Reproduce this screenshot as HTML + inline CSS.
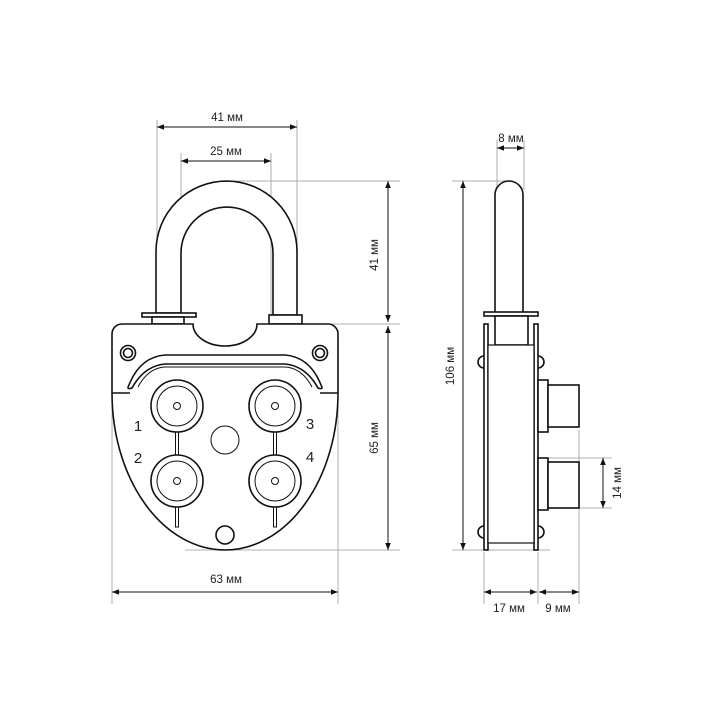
<!DOCTYPE html>
<html><head><meta charset="utf-8"><style>
html,body{margin:0;padding:0;background:#fff}
svg{display:block}
text{font-family:"Liberation Sans",sans-serif;fill:#222}
</style></head><body>
<svg width="709" height="709" viewBox="0 0 709 709" xmlns="http://www.w3.org/2000/svg">
<defs>
<marker id="a" viewBox="0 0 10 10" refX="10" refY="5" markerWidth="7" markerHeight="7" orient="auto-start-reverse"><path d="M0,1 L10,5 L0,9 z" fill="#111"/></marker>
</defs>
<!-- extension lines -->
<g stroke="#999" stroke-width="0.8" fill="none">
<line x1="157" y1="120" x2="157" y2="318"/>
<line x1="297" y1="120" x2="297" y2="318"/>
<line x1="181" y1="153" x2="181" y2="318"/>
<line x1="271" y1="153" x2="271" y2="318"/>
<line x1="226" y1="181" x2="400" y2="181"/>
<line x1="330" y1="324" x2="400" y2="324"/>
<line x1="185" y1="550" x2="400" y2="550"/>
<line x1="112" y1="393" x2="112" y2="604"/>
<line x1="338" y1="330" x2="338" y2="604"/>
<line x1="497" y1="140" x2="497" y2="190"/>
<line x1="524" y1="140" x2="524" y2="190"/>
<line x1="452" y1="181" x2="510" y2="181"/>
<line x1="452" y1="550" x2="550" y2="550"/>
<line x1="484" y1="552" x2="484" y2="604"/>
<line x1="538" y1="552" x2="538" y2="604"/>
<line x1="579" y1="430" x2="579" y2="604"/>
<line x1="548" y1="458" x2="612" y2="458"/>
<line x1="548" y1="508" x2="612" y2="508"/>
</g>
<!-- dimension lines -->
<g stroke="#111" stroke-width="1" fill="none" marker-start="url(#a)" marker-end="url(#a)">
<line x1="157" y1="127" x2="297" y2="127"/>
<line x1="181" y1="161" x2="271" y2="161"/>
<line x1="388" y1="181" x2="388" y2="322"/>
<line x1="388" y1="326" x2="388" y2="550"/>
<line x1="112" y1="592" x2="338" y2="592"/>
<line x1="463" y1="181" x2="463" y2="550"/>
<line x1="603" y1="458" x2="603" y2="508"/>
<line x1="484" y1="592" x2="537" y2="592"/>
<line x1="539" y1="592" x2="579" y2="592"/>
<line x1="497" y1="148" x2="524" y2="148"/>
</g>
<g font-size="11.5" text-anchor="middle">
<text x="227" y="121">41 мм</text>
<text x="226" y="155">25 мм</text>
<text x="226" y="583">63 мм</text>
<text x="511" y="142">8 мм</text>
<text x="509" y="612">17 мм</text>
<text x="558" y="612">9 мм</text>
<text transform="translate(378,255) rotate(-90)">41 мм</text>
<text transform="translate(378,438) rotate(-90)">65 мм</text>
<text transform="translate(454,366) rotate(-90)">106 мм</text>
<text transform="translate(621,483) rotate(-90)">14 мм</text>
</g>
<!-- front view -->
<g stroke="#111" stroke-width="1.6" fill="#fff">
<path d="M156,313 V251.5 A70.5,70.5 0 0 1 297,251.5 V315 H273 V253 A46,46 0 0 0 181,253 V313 Z"/>
<rect x="142" y="313" width="54" height="4"/>
<rect x="152" y="317" width="32" height="7"/>
<rect x="269" y="315" width="33" height="9"/>
<path d="M122,324 H193 A32,22 0 0 0 257,324 H328 A10,10 0 0 1 338,334 V393 A113,157 0 0 1 225,550 A113,157 0 0 1 112,393 V334 A10,10 0 0 1 122,324 Z"/>
<line x1="112" y1="393" x2="130" y2="393"/>
<line x1="320" y1="393" x2="338" y2="393"/>
<circle cx="128" cy="353" r="7.5"/><circle cx="128" cy="353" r="4.5"/>
<circle cx="320" cy="353" r="7.5"/><circle cx="320" cy="353" r="4.5"/>
<path d="M129,385 Q140,357 165,355 H285 Q310,357 321,385 Q324,390 318,388 Q306,366 285,364 H165 Q144,366 132,388 Q126,390 129,385 Z"/>
<path d="M138,387 Q148,368 165,367 H285 Q302,368 312,387" fill="none" stroke-width="1"/>
<rect x="175.5" y="430" width="3" height="28" stroke-width="1"/>
<rect x="273.5" y="430" width="3" height="28" stroke-width="1"/>
<rect x="175.5" y="505" width="3" height="22" stroke-width="1"/>
<rect x="273.5" y="505" width="3" height="22" stroke-width="1"/>
<g>
<circle cx="177" cy="406" r="26"/><circle cx="177" cy="406" r="20" stroke-width="1"/><circle cx="177" cy="406" r="3.5" stroke-width="1"/>
<circle cx="275" cy="406" r="26"/><circle cx="275" cy="406" r="20" stroke-width="1"/><circle cx="275" cy="406" r="3.5" stroke-width="1"/>
<circle cx="177" cy="481" r="26"/><circle cx="177" cy="481" r="20" stroke-width="1"/><circle cx="177" cy="481" r="3.5" stroke-width="1"/>
<circle cx="275" cy="481" r="26"/><circle cx="275" cy="481" r="20" stroke-width="1"/><circle cx="275" cy="481" r="3.5" stroke-width="1"/>
</g>
<circle cx="225" cy="440" r="14" stroke-width="1"/>
<circle cx="225" cy="535" r="9"/>
</g>
<g font-size="15" text-anchor="middle">
<text x="138" y="431">1</text><text x="138" y="463">2</text>
<text x="310" y="429">3</text><text x="310" y="462">4</text>
</g>
<!-- side view -->
<g stroke="#111" stroke-width="1.6" fill="#fff">
<path d="M495,313 V195 A14,14 0 0 1 523,195 V313 Z"/>
<rect x="484" y="312" width="54" height="4"/>
<rect x="495" y="316" width="33" height="29"/>
<path d="M484,356 a6,6 0 0 0 0,12" /><path d="M538,356 a6,6 0 0 1 0,12"/>
<path d="M484,526 a6,6 0 0 0 0,12" /><path d="M538,526 a6,6 0 0 1 0,12"/>
<rect x="484" y="324" width="4" height="226"/>
<rect x="534" y="324" width="4" height="226"/>
<rect x="488" y="345" width="46" height="198" stroke-width="1.2"/>
<rect x="538" y="380" width="10" height="52"/>
<rect x="548" y="385" width="31" height="42"/>
<rect x="538" y="458" width="10" height="52"/>
<rect x="548" y="462" width="31" height="46"/>
</g>
</svg>
</body></html>
